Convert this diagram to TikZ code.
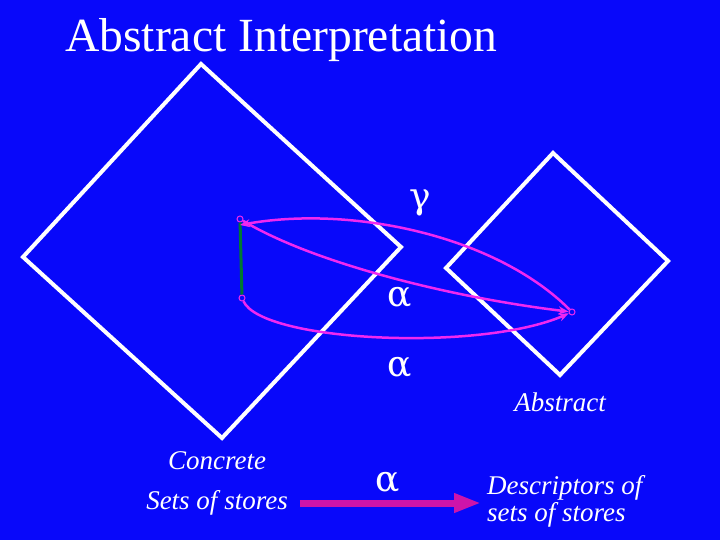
\documentclass[tikz,border=0pt]{standalone}
\usepackage{fontspec}
\setmainfont{Liberation Serif}
\newfontfamily\greekfont{DejaVu Serif}
\usetikzlibrary{arrows.meta}

\definecolor{slideblue}{RGB}{8,8,250}
\definecolor{mappink}{RGB}{240,40,240}
\definecolor{mappurple}{RGB}{205,20,170}
\definecolor{edgegreen}{RGB}{0,120,50}

\begin{document}
\begin{tikzpicture}[x=1pt,y=-1pt]
        \tikzstyle{every node}=[text=white,inner sep=0pt]
        \tikzstyle{domainbox}=[draw=white,line width=4pt,line join=miter]
        \tikzstyle{mapline}=[draw=mappink,line width=2.5pt,-{Stealth[length=10pt,width=8pt]}]
        \tikzstyle{spot}=[draw=mappink,circle,line width=1pt,minimum size=6pt]
        \tikzstyle{caption}=[font=\fontsize{27}{27}\selectfont\itshape]
        \tikzstyle{greek}=[font=\greekfont\fontsize{36}{36}\selectfont]

        \fill[slideblue] (0,0) rectangle (720,540);
        \useasboundingbox (0,0) rectangle (720,540);

        % title
        \node[anchor=base west,font=\fontsize{47.6}{48}\selectfont] (title) at (65,52) {Abstract Interpretation};

        % concrete domain
        \coordinate (ctop) at (201,64);
        \coordinate (cright) at (401,247);
        \coordinate (cbot) at (222,438);
        \coordinate (cleft) at (23,257);
        \draw[domainbox] (ctop) -- (cright) -- (cbot) -- (cleft) -- cycle;

        % abstract domain
        \coordinate (atop) at (553,153);
        \coordinate (aright) at (668,261);
        \coordinate (abot) at (560,375);
        \coordinate (aleft) at (446,268);
        \draw[domainbox] (atop) -- (aright) -- (abot) -- (aleft) -- cycle;

        % sets and descriptor
        \node[spot] (sup) at (240,219) {};
        \node[spot] (slow) at (242,298) {};
        \node[spot] (desc) at (572,312) {};
        \draw[edgegreen,line width=3pt] (sup) -- (slow);

        % gamma
        \draw[mapline] (desc) .. controls (495,235) and (350,205) .. ([yshift=-6pt]sup.center);
        \node[greek] (gamma) at (420,203) {γ};

        % alpha (upper)
        \draw[mapline] (sup) .. controls (315,264) and (455,298) .. (desc);
        \node[greek] (alphaup) at (400,297) {α};

        % alpha (lower)
        \draw[mapline] (slow) .. controls (262,342) and (480,352) .. (desc);
        \node[greek] (alphalow) at (400,367) {α};

        % legend
        \node[caption] (concrete) at (217,461) {Concrete};
        \node[caption] (sets) at (217,503) {Sets of stores};
        \node[caption] (abstract) at (560,402) {Abstract};
        \node[caption,anchor=west,align=left] (descr) at (487,501) {Descriptors of\\sets of stores};
        \draw[mappurple,line width=7pt,-{Triangle[length=27pt,width=18pt]}] ([xshift=12pt]sets.east) -- ([xshift=-6pt]sets -| descr.west);
        \node[greek] (alphakey) at (388,482) {α};

\end{tikzpicture}
\end{document}
